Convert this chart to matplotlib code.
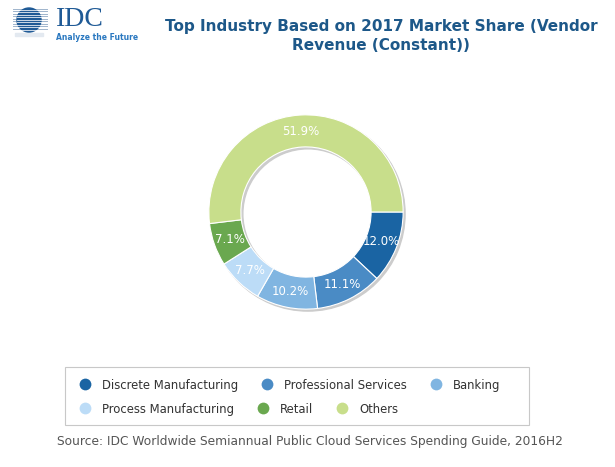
import matplotlib.pyplot as plt
from matplotlib.patches import Circle, Wedge, Rectangle
import numpy as np

# Chart data
industries = ['Discrete Manufacturing', 'Professional Services', 'Banking',
              'Process Manufacturing', 'Retail', 'Others']
shares = [12.0, 11.1, 10.2, 7.7, 7.1, 51.9]
colors = ['#1a64a3', '#4a8bc5', '#80b5e1', '#bcdcf7', '#6aa84f', '#c8de8b']

title = 'Top Industry Based on 2017 Market Share (Vendor\nRevenue (Constant))'
source = 'Source: IDC Worldwide Semiannual Public Cloud Services Spending Guide, 2016H2'

W, H = 615, 467
fig = plt.figure(figsize=(W / 100, H / 100), dpi=100)
fig.patch.set_facecolor('white')

# overlay in pixel coordinates for logo / legend
ov = fig.add_axes([0, 0, 1, 1])
ov.set_xlim(0, W)
ov.set_ylim(H, 0)
ov.axis('off')

# --- logo (rough) ---
ov.add_patch(Rectangle((15, 33), 28, 3, color='#e3e9f0', zorder=1))
for yy in np.arange(8.5, 31, 2.5):
    ov.plot([13, 47], [yy, yy], color='#9fb4cc', lw=0.7, zorder=1)
ov.add_patch(Circle((29, 20), 12, color='#1f5a96', zorder=2))
for yy in np.arange(9.75, 31, 2.5):
    ov.plot([17, 41], [yy, yy], color='white', lw=0.6, zorder=3, alpha=0.9)
ov.text(56, 19, 'IDC', fontsize=20, family='Liberation Serif', color='#1f5a96',
        va='center', ha='left')
ov.text(56, 38, 'Analyze the Future', fontsize=5.5, color='#2a78c0',
        va='center', ha='left', fontweight='bold')

# --- title ---
fig.text(381 / W, 1 - 36 / H, title, ha='center', va='center', fontsize=11,
         fontweight='bold', color='#1d5889', linespacing=1.35)

# --- donut ---
cx, cy, R = 306, 212, 97
ax = fig.add_axes([(cx - 102) / W, (H - cy - 102) / H, 204 / W, 204 / H])
width = 1 - 65 / 97
# soft shadow
ax.add_patch(Wedge((0.02, -0.02), 1.0, 0, 360, width=width, color='#cccccc', zorder=0))
wedges, _, autotexts = ax.pie(shares, colors=colors, startangle=0, counterclock=False,
                              radius=1.0, autopct='%.1f%%', pctdistance=0.835,
                              wedgeprops=dict(width=width, edgecolor='white', linewidth=0.8),
                              textprops=dict(color='white', fontsize=8.5))
ax.set_xlim(-1.05, 1.05)
ax.set_ylim(-1.05, 1.05)
ax.set_aspect('equal')
ax.axis('off')

# --- legend (flow layout, drawn by hand) ---
ov.add_patch(Rectangle((65, 367), 464, 58, fill=False, edgecolor='#c8c8c8', lw=0.8))
renderer = fig.canvas.get_renderer()
row_y = [384, 408]
for r in range(2):
    x = 85
    for i in range(r * 3, r * 3 + 3):
        ov.scatter([x], [row_y[r]], s=72, color=colors[i], zorder=3, linewidths=0)
        t = ov.text(x + 17, row_y[r], industries[i], fontsize=8.35, color='#333333',
                    va='center_baseline', ha='left')
        bb = t.get_window_extent(renderer)
        x = x + 17 + bb.width + 29

ov.text(310, 442, source, ha='center', va='center', fontsize=8.8, color='#555555')

fig.savefig('out.png', dpi=100)
